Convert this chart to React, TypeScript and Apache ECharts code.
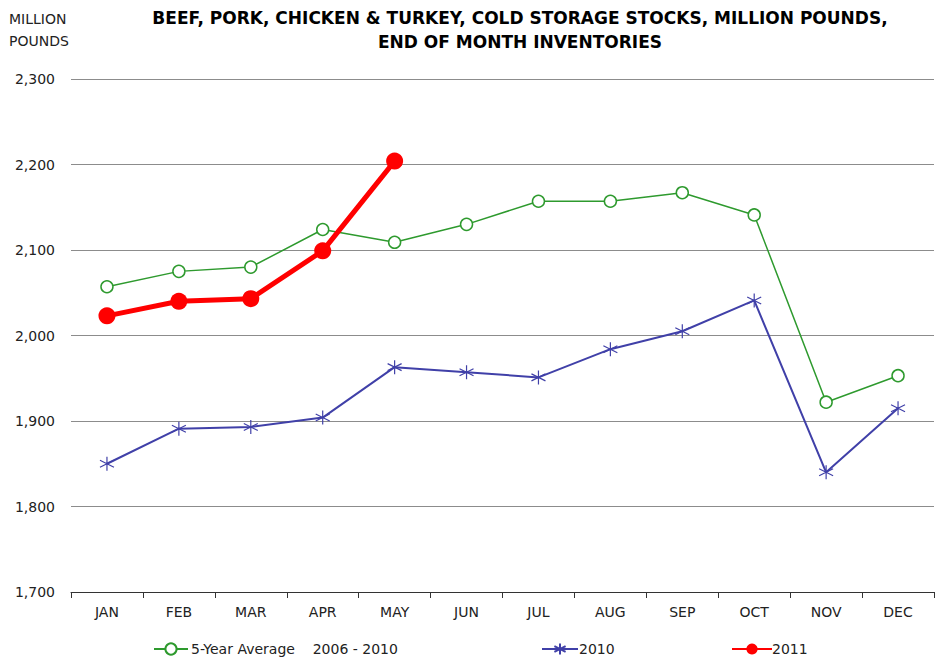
import React, { useEffect, useRef } from "react";
import * as echarts from "echarts";

const months = ["JAN", "FEB", "MAR", "APR", "MAY", "JUN", "JUL", "AUG", "SEP", "OCT", "NOV", "DEC"];
const avg5yr = [2057, 2075, 2080, 2124, 2109, 2130, 2157, 2157, 2167, 2141, 1922, 1953];
const y2010 = [1850, 1891, 1893, 1904, 1963, 1957, 1951, 1984, 2005, 2041, 1840, 1915];
const y2011 = [2023, 2040, 2043, 2099, 2204];

const FONT = "'DejaVu Sans', sans-serif";
const asterisk = "path://M0,-10 L0,10 M-8.66,-5 L8.66,5 M-8.66,5 L8.66,-5";

export default function App() {
  const ref = useRef<HTMLDivElement>(null);
  useEffect(() => {
    const chart = echarts.init(ref.current!, null, { renderer: "svg" });
    chart.setOption({
      animation: false,
      backgroundColor: "#fff",
      title: {
        text: "BEEF, PORK, CHICKEN & TURKEY, COLD STORAGE STOCKS, MILLION POUNDS,\nEND OF MONTH INVENTORIES",
        left: 515,
        top: 1,
        textAlign: "center",
        textStyle: { fontFamily: FONT, fontWeight: "bold", fontSize: 17, lineHeight: 24, color: "#000" },
      },
      graphic: [
        {
          type: "text",
          left: 9,
          top: 8,
          style: { text: "MILLION\nPOUNDS", font: "14px " + FONT, lineHeight: 22, fill: "#222" },
        },
      ],
      grid: { left: 71, right: 1, top: 79, bottom: 67, containLabel: false },
      xAxis: {
        type: "category",
        data: months,
        boundaryGap: true,
        axisLine: { lineStyle: { color: "#333", width: 1 } },
        axisTick: { show: true, length: 6, lineStyle: { color: "#333" } },
        axisLabel: { fontFamily: FONT, fontSize: 14, color: "#222", margin: 13 },
      },
      yAxis: {
        type: "value",
        min: 1700,
        max: 2300,
        interval: 100,
        axisLine: { show: false },
        axisTick: { show: false },
        splitLine: { lineStyle: { color: "#8c8c8c", width: 1 } },
        axisLabel: {
          fontFamily: FONT,
          fontSize: 14,
          color: "#222",
          margin: 16,
          formatter: (v: number) => v.toLocaleString("en-US"),
        },
      },
      legend: [
        {
          data: ["5-Year Average    2006 - 2010"],
          left: 148,
          top: 637,
          itemWidth: 34,
          itemHeight: 14,
          itemGap: 4,
          textStyle: { fontFamily: FONT, fontSize: 14, lineHeight: 14, color: "#222", padding: [0, 0, 0, -2] },
        },
        {
          data: ["2010"],
          left: 536,
          top: 637,
          itemWidth: 36,
          itemHeight: 14,
          textStyle: { fontFamily: FONT, fontSize: 14, lineHeight: 14, color: "#222", padding: [0, 0, 0, -4] },
        },
        {
          data: ["2011"],
          left: 726,
          top: 637,
          itemWidth: 40,
          itemHeight: 14,
          textStyle: { fontFamily: FONT, fontSize: 14, lineHeight: 14, color: "#222", padding: [0, 0, 0, -5] },
        },
      ],
      series: [
        {
          name: "5-Year Average    2006 - 2010",
          type: "line",
          data: avg5yr,
          symbol: "circle",
          symbolSize: 12,
          lineStyle: { color: "#2e9a2e", width: 1.5 },
          itemStyle: { color: "#fff", borderColor: "#2e9a2e", borderWidth: 1.5 },
          z: 2,
        },
        {
          name: "2010",
          type: "line",
          data: y2010,
          symbol: asterisk,
          symbolSize: 14,
          lineStyle: { color: "#4040a8", width: 2 },
          itemStyle: { color: "#4040a8", borderColor: "#4040a8", borderWidth: 1.2 },
          z: 3,
        },
        {
          name: "2011",
          type: "line",
          data: y2011,
          symbol: "circle",
          symbolSize: 17,
          lineStyle: { color: "#ff0000", width: 5 },
          itemStyle: { color: "#ff0000" },
          z: 4,
        },
      ],
    });
    return () => chart.dispose();
  }, []);
  return <div ref={ref} style={{ width: 935, height: 659, position: "fixed", left: 0, top: 0 }} />;
}
